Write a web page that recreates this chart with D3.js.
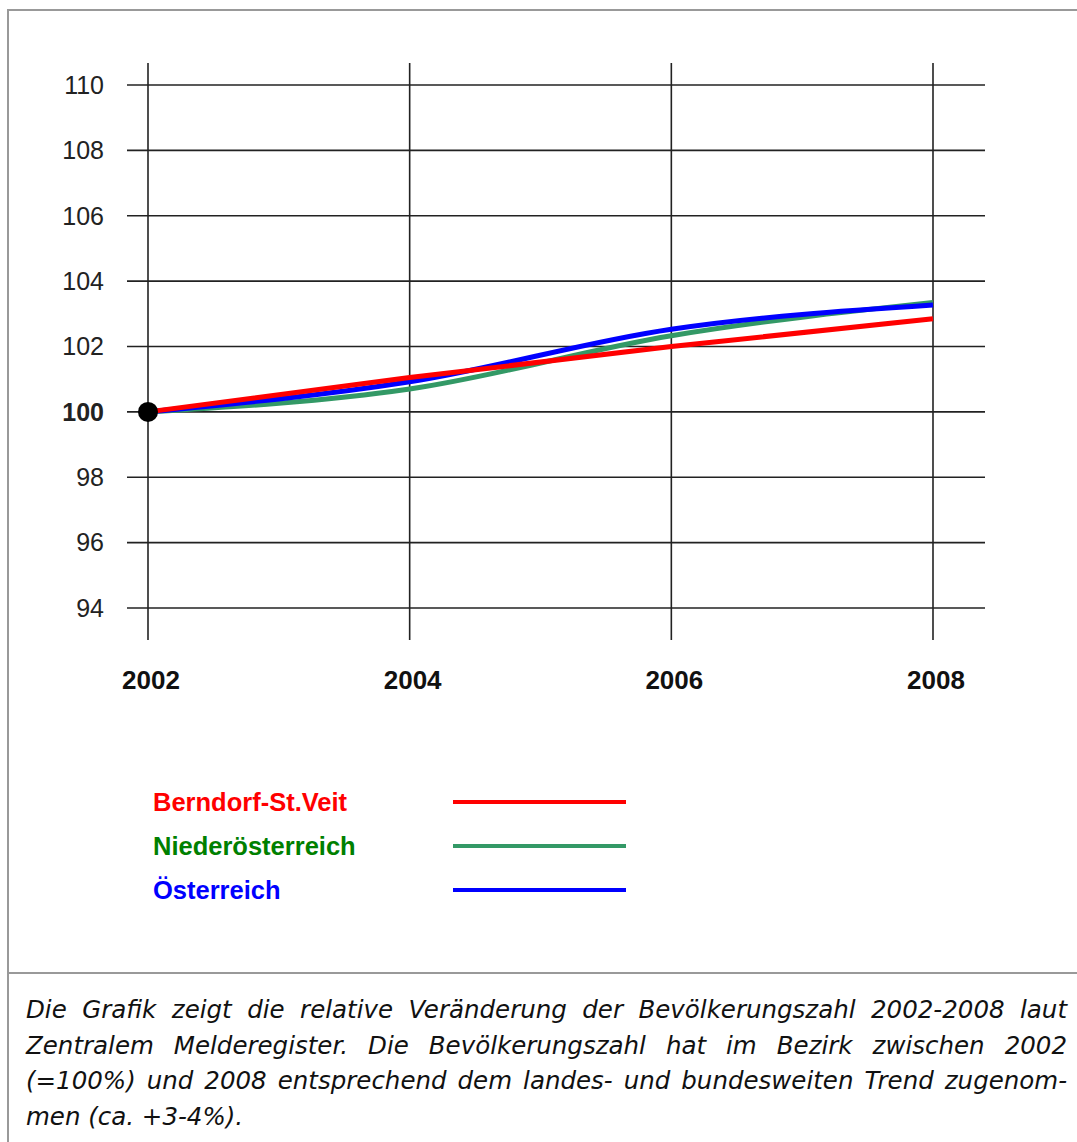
<!DOCTYPE html>
<html>
<head>
<meta charset="utf-8">
<script src="https://cdn.jsdelivr.net/npm/d3@7"></script>
<style>
  body { margin: 0; background: #fff; }
  #wrap { position: relative; width: 1077px; height: 1142px; overflow: hidden; }
  #caption {
    position: absolute; left: 26px; top: 992px; width: 1041px;
    font-family: "DejaVu Sans", Verdana, sans-serif; font-style: italic;
    font-size: 24.5px; line-height: 35.5px; color: #111;
  }
  #caption .ln { text-align: justify; text-align-last: justify; white-space: nowrap; }
  #caption .ln.last { text-align-last: left; }
</style>
</head>
<body>
<div id="wrap"></div>
<script>
const years = [2002, 2004, 2006, 2008];
const yTicks = [94, 96, 98, 100, 102, 104, 106, 108, 110];
const berndorf = [100, 101.05, 102.0, 102.85];
const niederoesterreich = [100, 100.7, 102.33, 103.35];
const oesterreich = [100, 100.92, 102.53, 103.27];
const seriesNames = ["Berndorf-St.Veit", "Niederösterreich", "Österreich"];
const captionLines = [
  "Die Grafik zeigt die relative Veränderung der Bevölkerungszahl 2002-2008 laut",
  "Zentralem Melderegister. Die Bevölkerungszahl hat im Bezirk zwischen 2002",
  "(=100%) und 2008 entsprechend dem landes- und bundesweiten Trend zugenom-",
  "men (ca. +3-4%)."
];

const W = 1077, H = 1142;
const wrap = d3.select("#wrap");
const svg = wrap.append("svg").attr("width", W).attr("height", H)
  .style("position", "absolute").style("left", 0).style("top", 0);

// frame
svg.append("path")
  .attr("d", `M${W + 5},10 H8 V${H + 5} M8,973 H${W + 5}`)
  .attr("fill", "none").attr("stroke", "#999").attr("stroke-width", 2);

const x = d3.scaleLinear().domain([2002, 2008]).range([148, 933]);
const y = d3.scaleLinear().domain([94, 110]).range([608, 85]);

// grid
svg.append("g").selectAll("line").data(yTicks).join("line")
  .attr("x1", 127).attr("x2", 985)
  .attr("y1", d => y(d)).attr("y2", d => y(d))
  .attr("stroke", "#222").attr("stroke-width", 1.6);
svg.append("g").selectAll("line").data(years).join("line")
  .attr("x1", d => x(d)).attr("x2", d => x(d))
  .attr("y1", 63).attr("y2", 640)
  .attr("stroke", "#222").attr("stroke-width", 1.6);

// tick labels
svg.append("g").selectAll("text").data(yTicks).join("text")
  .attr("x", 104).attr("y", d => y(d)).attr("dy", "0.35em")
  .attr("text-anchor", "end")
  .attr("font-family", "Liberation Sans, Arial, sans-serif")
  .attr("font-size", 25)
  .attr("font-weight", d => d === 100 ? "bold" : "normal")
  .attr("fill", "#222")
  .text(d => d);
svg.append("g").selectAll("text").data(years).join("text")
  .attr("x", d => x(d) + 3).attr("y", 689)
  .attr("text-anchor", "middle")
  .attr("font-family", "Liberation Sans, Arial, sans-serif")
  .attr("font-size", 26).attr("font-weight", "bold")
  .attr("fill", "#111")
  .text(d => d);

// lines
const series = [
  { name: seriesNames[0], values: berndorf, color: "#ff0000", text: "#ff0000" },
  { name: seriesNames[1], values: niederoesterreich, color: "#339966", text: "#008000" },
  { name: seriesNames[2], values: oesterreich, color: "#0000ff", text: "#0000ff" }
];
const line = d3.line()
  .x((d, i) => x(years[i])).y(d => y(d))
  .curve(d3.curveMonotoneX);
const drawOrder = [1, 2, 0];
svg.append("g").selectAll("path").data(drawOrder.map(i => series[i])).join("path")
  .attr("d", d => line(d.values))
  .attr("fill", "none").attr("stroke", d => d.color).attr("stroke-width", 5);

svg.append("circle").attr("cx", x(2002)).attr("cy", y(100)).attr("r", 10).attr("fill", "#000");

// legend
const leg = svg.append("g").selectAll("g").data(series).join("g")
  .attr("transform", (d, i) => `translate(0,${802 + i * 44})`);
leg.append("text")
  .attr("x", 153).attr("dy", "0.35em")
  .attr("font-family", "Liberation Sans, Arial, sans-serif")
  .attr("font-size", 25.5).attr("font-weight", "bold")
  .attr("fill", d => d.text)
  .text(d => d.name);
leg.append("line")
  .attr("x1", 453).attr("x2", 626)
  .attr("stroke", d => d.color).attr("stroke-width", 4);

// caption
const cap = wrap.append("div").attr("id", "caption");
cap.selectAll("div").data(captionLines).join("div")
  .attr("class", (d, i) => i === captionLines.length - 1 ? "ln last" : "ln")
  .text(d => d);
</script>
</body>
</html>
